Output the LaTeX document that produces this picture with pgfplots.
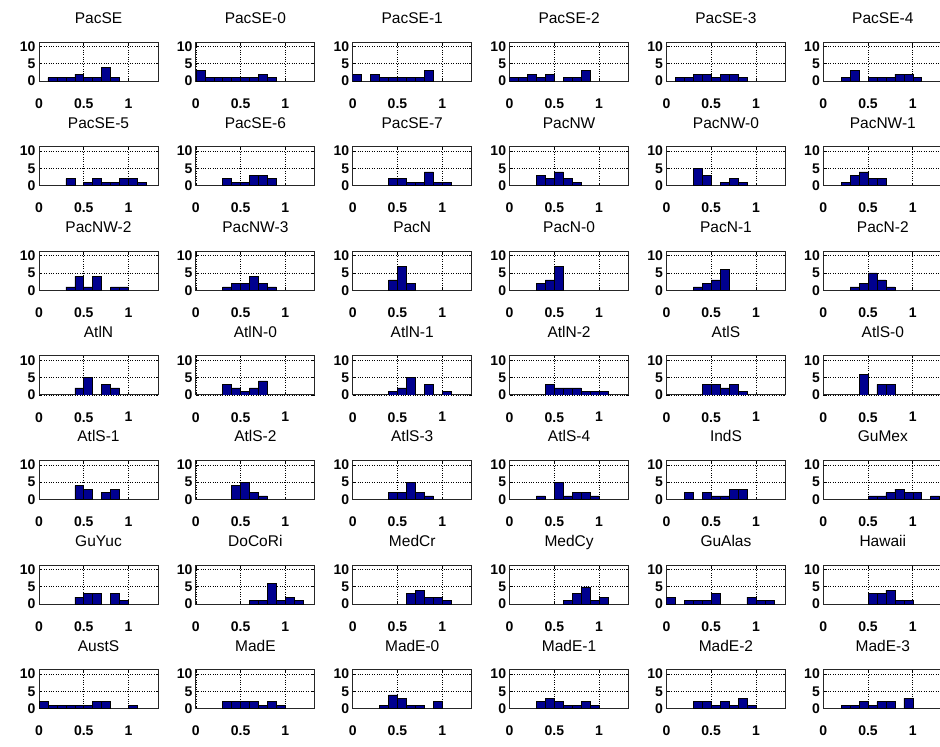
\documentclass[border=0pt]{standalone}
\usepackage{fontspec}
\setmainfont{Liberation Sans}
\usepackage{pgfplots}
\pgfplotsset{compat=1.18}

\definecolor{barblue}{rgb}{0,0,0.5625}

% common look of every small histogram
\pgfplotsset{panel/.style={
  scale only axis, width=119bp, height=39bp,
  anchor=north west,
  xmin=0, xmax=1.33, ymin=0, ymax=11.3,
  xtick={0,0.5,1}, ytick={0,5,10},
  xticklabels={0,0.5,1}, yticklabels={0,5,10},
  grid=major, major grid style={black, dotted, line width=0.6bp},
  axis line style={black!85, line width=0.8bp},
  tick align=inside, major tick length=2.5bp, tick style={black, line width=0.6bp},
  ticklabel style={font=\fontsize{14bp}{16bp}\selectfont\bfseries},
  xticklabel shift=14bp, yticklabel shift=0bp,
  title style={font=\fontsize{15.5bp}{17bp}\selectfont, at={(0.5,1)}, anchor=base, yshift=12.5bp},
}}

% \panel{column}{row}{title}{bin centres and counts}
\newcommand\panel[4]{%
  \begin{axis}[panel, at={({39bp+#1*156.86bp},{-42bp-#2*104.6bp})}, title={#3}]
    \addplot[ybar, bar width=0.1, bar shift=0pt, fill=barblue, draw=black, line width=0.5bp]
      coordinates {#4};
  \end{axis}}

\begin{document}
\begin{tikzpicture}
\path[use as bounding box] (0,0) rectangle (940bp,-747bp);

\panel{0}{0}{PacSE}{(0.15,1)(0.25,1)(0.35,1)(0.45,2)(0.55,1)(0.65,1)(0.75,4)(0.85,1)}
\panel{1}{0}{PacSE-0}{(0.05,3)(0.15,1)(0.25,1)(0.35,1)(0.45,1)(0.55,1)(0.65,1)(0.75,2)(0.85,1)}
\panel{2}{0}{PacSE-1}{(0.05,2)(0.25,2)(0.35,1)(0.45,1)(0.55,1)(0.65,1)(0.75,1)(0.85,3)}
\panel{3}{0}{PacSE-2}{(0.05,1)(0.15,1)(0.25,2)(0.35,1)(0.45,2)(0.65,1)(0.75,1)(0.85,3)}
\panel{4}{0}{PacSE-3}{(0.15,1)(0.25,1)(0.35,2)(0.45,2)(0.55,1)(0.65,2)(0.75,2)(0.85,1)}
\panel{5}{0}{PacSE-4}{(0.25,1)(0.35,3)(0.55,1)(0.65,1)(0.75,1)(0.85,2)(0.95,2)(1.05,1)}

\panel{0}{1}{PacSE-5}{(0.35,2)(0.55,1)(0.65,2)(0.75,1)(0.85,1)(0.95,2)(1.05,2)(1.15,1)}
\panel{1}{1}{PacSE-6}{(0.35,2)(0.45,1)(0.55,1)(0.65,3)(0.75,3)(0.85,2)}
\panel{2}{1}{PacSE-7}{(0.45,2)(0.55,2)(0.65,1)(0.75,1)(0.85,4)(0.95,1)(1.05,1)}
\panel{3}{1}{PacNW}{(0.35,3)(0.45,2)(0.55,4)(0.65,2)(0.75,1)}
\panel{4}{1}{PacNW-0}{(0.35,5)(0.45,3)(0.65,1)(0.75,2)(0.85,1)}
\panel{5}{1}{PacNW-1}{(0.25,1)(0.35,3)(0.45,4)(0.55,2)(0.65,2)}

\panel{0}{2}{PacNW-2}{(0.35,1)(0.45,4)(0.55,1)(0.65,4)(0.85,1)(0.95,1)}
\panel{1}{2}{PacNW-3}{(0.35,1)(0.45,2)(0.55,2)(0.65,4)(0.75,2)(0.85,1)}
\panel{2}{2}{PacN}{(0.45,3)(0.55,7)(0.65,2)}
\panel{3}{2}{PacN-0}{(0.35,2)(0.45,3)(0.55,7)}
\panel{4}{2}{PacN-1}{(0.35,1)(0.45,2)(0.55,3)(0.65,6)}
\panel{5}{2}{PacN-2}{(0.35,1)(0.45,2)(0.55,5)(0.65,3)(0.75,1)}

\panel{0}{3}{AtlN}{(0.45,2)(0.55,5)(0.75,3)(0.85,2)}
\panel{1}{3}{AtlN-0}{(0.35,3)(0.45,2)(0.55,1)(0.65,2)(0.75,4)}
\panel{2}{3}{AtlN-1}{(0.45,1)(0.55,2)(0.65,5)(0.85,3)(1.05,1)}
\panel{3}{3}{AtlN-2}{(0.45,3)(0.55,2)(0.65,2)(0.75,2)(0.85,1)(0.95,1)(1.05,1)}
\panel{4}{3}{AtlS}{(0.45,3)(0.55,3)(0.65,2)(0.75,3)(0.85,1)}
\panel{5}{3}{AtlS-0}{(0.45,6)(0.65,3)(0.75,3)}

\panel{0}{4}{AtlS-1}{(0.45,4)(0.55,3)(0.75,2)(0.85,3)}
\panel{1}{4}{AtlS-2}{(0.45,4)(0.55,5)(0.65,2)(0.75,1)}
\panel{2}{4}{AtlS-3}{(0.45,2)(0.55,2)(0.65,5)(0.75,2)(0.85,1)}
\panel{3}{4}{AtlS-4}{(0.35,1)(0.55,5)(0.65,1)(0.75,2)(0.85,2)(0.95,1)}
\panel{4}{4}{IndS}{(0.25,2)(0.45,2)(0.55,1)(0.65,1)(0.75,3)(0.85,3)}
\panel{5}{4}{GuMex}{(0.55,1)(0.65,1)(0.75,2)(0.85,3)(0.95,2)(1.05,2)(1.25,1)}

\panel{0}{5}{GuYuc}{(0.45,2)(0.55,3)(0.65,3)(0.85,3)(0.95,1)}
\panel{1}{5}{DoCoRi}{(0.65,1)(0.75,1)(0.85,6)(0.95,1)(1.05,2)(1.15,1)}
\panel{2}{5}{MedCr}{(0.65,3)(0.75,4)(0.85,2)(0.95,2)(1.05,1)}
\panel{3}{5}{MedCy}{(0.65,1)(0.75,3)(0.85,5)(0.95,1)(1.05,2)}
\panel{4}{5}{GuAlas}{(0.05,2)(0.25,1)(0.35,1)(0.45,1)(0.55,3)(0.95,2)(1.05,1)(1.15,1)}
\panel{5}{5}{Hawaii}{(0.55,3)(0.65,3)(0.75,4)(0.85,1)(0.95,1)}

\panel{0}{6}{AustS}{(0.05,2)(0.15,1)(0.25,1)(0.35,1)(0.45,1)(0.55,1)(0.65,2)(0.75,2)(1.05,1)}
\panel{1}{6}{MadE}{(0.35,2)(0.45,2)(0.55,2)(0.65,2)(0.75,1)(0.85,2)(0.95,1)}
\panel{2}{6}{MadE-0}{(0.35,1)(0.45,4)(0.55,3)(0.65,1)(0.75,1)(0.95,2)}
\panel{3}{6}{MadE-1}{(0.35,2)(0.45,3)(0.55,2)(0.65,1)(0.75,1)(0.85,2)(0.95,1)}
\panel{4}{6}{MadE-2}{(0.35,2)(0.45,2)(0.55,1)(0.65,2)(0.75,1)(0.85,3)(0.95,1)}
\panel{5}{6}{MadE-3}{(0.25,1)(0.35,1)(0.45,2)(0.55,1)(0.65,2)(0.75,2)(0.95,3)}
\end{tikzpicture}
\end{document}
